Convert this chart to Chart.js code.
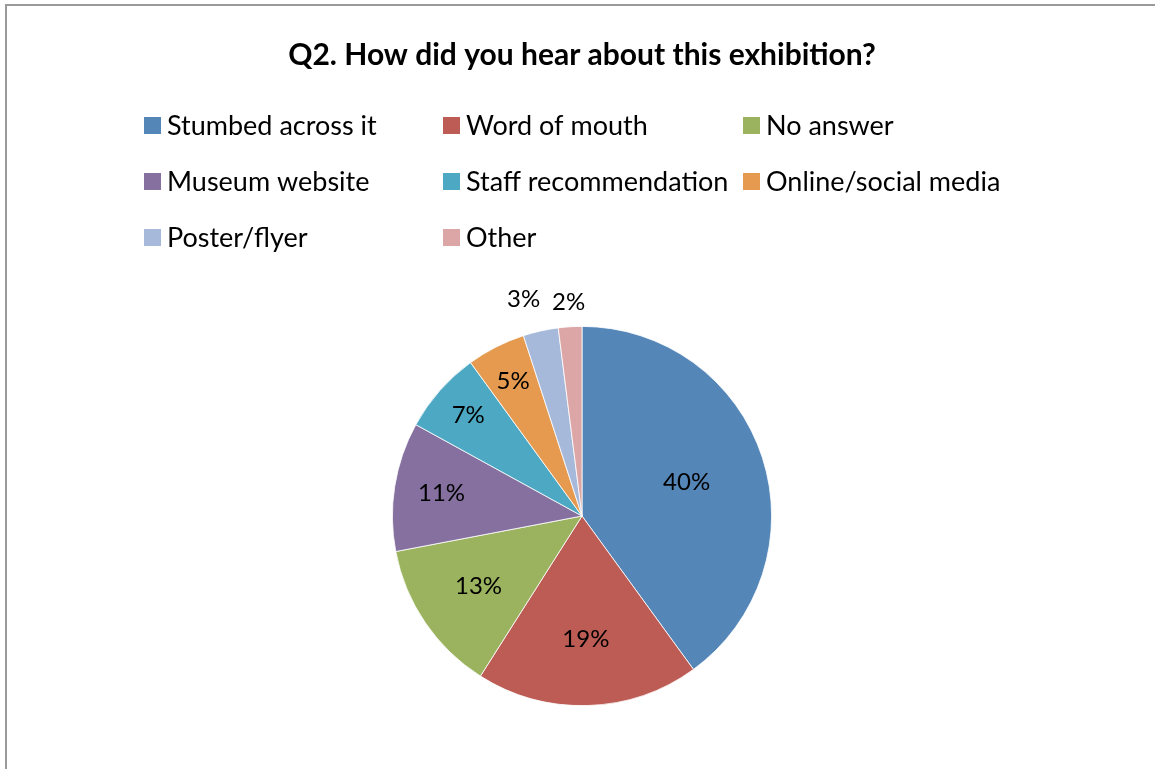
<!DOCTYPE html>
<html><head><meta charset="utf-8">
<script src="https://cdn.jsdelivr.net/npm/chart.js@4"></script>
<style>html,body{margin:0;padding:0;background:#fff;}#wrap{width:1155px;height:769px;position:relative;}</style>
</head><body><div id="wrap"><canvas id="c" width="1155" height="769"></canvas></div>
<script>
const titleText = 'Q2. How did you hear about this exhibition?';
const categories = ['Stumbed across it','Word of mouth','No answer','Museum website','Staff recommendation','Online/social media','Poster/flyer','Other'];
const values = [40,19,13,11,7,5,3,2];
const valueLabels = ['40%','19%','13%','11%','7%','5%','3%','2%'];
const colors = ['#5586B8','#BC5C55','#9BB35E','#8570A0','#4DA9C3','#E59A50','#A6B9DA','#DBA6A5'];
const labelStyle = {radius:[0.58,0.65,0.66,0.75,0.80,0.80,1.17,1.13], shiftX:[0,0,0,0,0,0,-10,0]};
const FONT = 'Lato, "Open Sans", sans-serif';

const deco = {
  id:'deco',
  beforeDraw(chart){
    const ctx = chart.ctx;
    ctx.save();
    ctx.strokeStyle = '#9a9a9a'; ctx.lineWidth = 2;
    ctx.beginPath(); ctx.moveTo(6, 800); ctx.lineTo(6, 5); ctx.lineTo(1200, 5); ctx.stroke();
    ctx.fillStyle = '#000'; ctx.textAlign='center'; ctx.textBaseline='middle';
    ctx.font = 'bold 30px ' + FONT;
    ctx.fillText(titleText, 582, 55);
    ctx.font = '27px ' + FONT; ctx.textAlign='left';
    const colX=[144,443,743], rowY=[125,181,237];
    chart.data.labels.forEach((l,i)=>{
      const x=colX[i%3], y=rowY[Math.floor(i/3)];
      ctx.fillStyle = chart.data.datasets[0].backgroundColor[i];
      ctx.fillRect(x, y-8, 17, 17);
      ctx.fillStyle='#000';
      ctx.fillText(l, x+23, y+1);
    });
    ctx.restore();
  },
  afterDatasetsDraw(chart){
    const ctx = chart.ctx;
    const meta = chart.getDatasetMeta(0);
    ctx.save();
    ctx.fillStyle='#000'; ctx.font='24px ' + FONT; ctx.textAlign='center'; ctx.textBaseline='middle';
    meta.data.forEach((arc,i)=>{
      const p = arc.getProps(['x','y','startAngle','endAngle','outerRadius'],true);
      const a = (p.startAngle+p.endAngle)/2;
      const r = p.outerRadius*labelStyle.radius[i];
      ctx.fillText(valueLabels[i], p.x+Math.cos(a)*r+labelStyle.shiftX[i], p.y+Math.sin(a)*r);
    });
    ctx.restore();
  }
};

new Chart(document.getElementById('c'), {
  type:'pie',
  data:{labels:categories, datasets:[{data:values, backgroundColor:colors, borderColor:'#ffffff', borderWidth:0.8}]},
  options:{
    responsive:false, animation:false,
    layout:{padding:{top:326,bottom:63,left:9,right:0}},
    plugins:{legend:{display:false}, title:{display:false}, tooltip:{enabled:false}}
  },
  plugins:[deco]
});
</script></body></html>
